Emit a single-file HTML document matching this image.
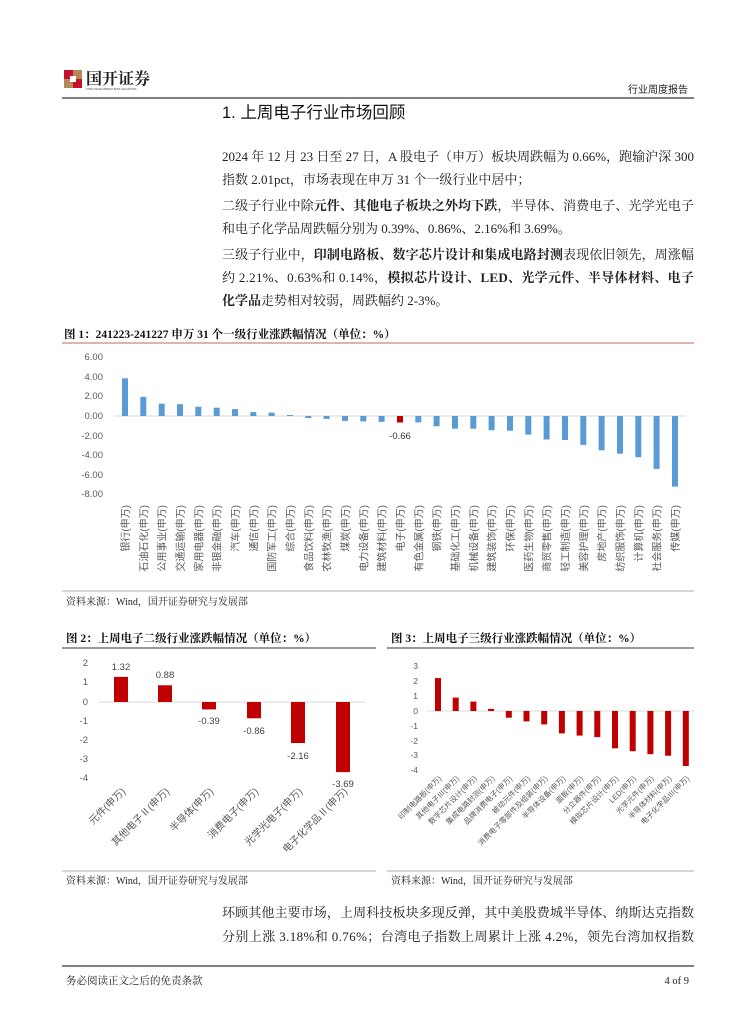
<!DOCTYPE html>
<html><head><meta charset="utf-8"><style>
html,body{margin:0;padding:0;background:#fff}
svg{display:block}
.b{font-family:"Liberation Serif","Noto Serif CJK SC",serif;font-size:13px;fill:#222}
.s{font-family:"Liberation Sans","Noto Sans CJK SC",sans-serif;fill:#595959}
.t{font-family:"Liberation Serif","Noto Serif CJK SC",serif;font-size:11.5px;font-weight:bold;fill:#111}
.src{font-family:"Liberation Serif","Noto Serif CJK SC",serif;font-size:10px;fill:#222}
</style></head><body>
<svg width="755" height="1024" viewBox="0 0 755 1024" xmlns="http://www.w3.org/2000/svg">
<!-- header -->
<rect x="64" y="70" width="9" height="9" fill="#c8102e"/><rect x="73" y="70" width="9" height="9" fill="#b58a5a"/>
<rect x="64" y="79" width="9" height="9" fill="#b58a5a"/><rect x="73" y="79" width="9" height="9" fill="#c8102e"/>
<rect x="70" y="76" width="6" height="6" fill="#fff"/>
<text x="86" y="84" font-family="Noto Serif CJK SC,serif" font-size="16" font-weight="bold" fill="#222">国开证券</text>
<text x="86" y="90" font-family="Liberation Sans,sans-serif" font-size="2.5" fill="#444">CHINA DEVELOPMENT BANK SECURITIES</text>
<text x="688" y="93" class="s" font-size="10" text-anchor="end" fill="#222" style="fill:#222">行业周度报告</text>
<line x1="62" y1="98" x2="694" y2="98" stroke="#333" stroke-width="1.2"/>
<text x="222" y="118" font-family="Liberation Sans,Noto Sans CJK SC,sans-serif" font-size="16.5" fill="#111">1. 上周电子行业市场回顾</text>
<!-- paragraphs -->
<text class="b" x="222" y="161" textLength="472" lengthAdjust="spacing">2024 年 12 月 23 日至 27 日，A 股电子（申万）板块周跌幅为 0.66%，跑输沪深 300</text>
<text class="b" x="222" y="184">指数 2.01pct，市场表现在申万 31 个一级行业中居中；</text>
<text class="b" x="222" y="210" textLength="472" lengthAdjust="spacing">二级子行业中除<tspan font-weight="bold">元件、其他电子板块之外均下跌</tspan>，半导体、消费电子、光学光电子</text>
<text class="b" x="222" y="233">和电子化学品周跌幅分别为 0.39%、0.86%、2.16%和 3.69%。</text>
<text class="b" x="222" y="259" textLength="472" lengthAdjust="spacing">三级子行业中，<tspan font-weight="bold">印制电路板、数字芯片设计和集成电路封测</tspan>表现依旧领先，周涨幅</text>
<text class="b" x="222" y="282" textLength="472" lengthAdjust="spacing">约 2.21%、0.63%和 0.14%，<tspan font-weight="bold">模拟芯片设计、LED、光学元件、半导体材料、电子</tspan></text>
<text class="b" x="222" y="305"><tspan font-weight="bold">化学品</tspan>走势相对较弱，周跌幅约 2-3%。</text>
<!-- fig1 -->
<text class="t" x="64" y="338">图 1：241223-241227 申万 31 个一级行业涨跌幅情况（单位：%）</text>
<line x1="62" y1="343" x2="694" y2="343" stroke="#c0504d" stroke-width="1.2" opacity="0.7"/>
<g class="s" font-size="9.5" text-anchor="end">
<text x="103" y="360">6.00</text><text x="103" y="380">4.00</text><text x="103" y="399">2.00</text><text x="103" y="419">0.00</text>
<text x="103" y="439">-2.00</text><text x="103" y="458">-4.00</text><text x="103" y="478">-6.00</text><text x="103" y="497">-8.00</text>
</g>
<line x1="114" y1="416" x2="686" y2="416" stroke="#d9d9d9" stroke-width="1"/>
<g fill="#5b9bd5">
<rect x="122" y="378.3" width="6" height="37.7"/><rect x="140.3" y="396.9" width="6" height="19.1"/><rect x="158.7" y="403.7" width="6" height="12.3"/>
<rect x="177" y="404.2" width="6" height="11.8"/><rect x="195.3" y="406.7" width="6" height="9.3"/><rect x="213.7" y="407.7" width="6" height="8.3"/>
<rect x="232" y="409.1" width="6" height="6.9"/><rect x="250.3" y="412.1" width="6" height="3.9"/><rect x="268.6" y="412.6" width="6" height="3.4"/>
<rect x="287" y="415" width="6" height="1"/><rect x="305.3" y="416" width="6" height="2"/><rect x="323.6" y="416" width="6" height="2.9"/>
<rect x="342" y="416" width="6" height="4.9"/><rect x="360.3" y="416" width="6" height="5.4"/><rect x="378.6" y="416" width="6" height="5.9"/>
<rect x="397" y="416" width="6" height="6.5" fill="#c00000"/><rect x="415.3" y="416" width="6" height="6.4"/><rect x="433.6" y="416" width="6" height="10.3"/>
<rect x="452" y="416" width="6" height="12.7"/><rect x="470.3" y="416" width="6" height="12.7"/><rect x="488.6" y="416" width="6" height="14.2"/>
<rect x="507" y="416" width="6" height="14.7"/><rect x="525.3" y="416" width="6" height="18.6"/><rect x="543.6" y="416" width="6" height="23.5"/>
<rect x="562" y="416" width="6" height="24"/><rect x="580.3" y="416" width="6" height="28.9"/><rect x="598.6" y="416" width="6" height="34.3"/>
<rect x="617" y="416" width="6" height="37.7"/><rect x="635.3" y="416" width="6" height="41.2"/><rect x="653.6" y="416" width="6" height="52.9"/>
<rect x="672" y="416" width="6" height="70.6"/>
</g>
<text class="s" x="400" y="439" font-size="9.5" text-anchor="middle" style="fill:#333">-0.66</text>
<g class="s" font-size="10" text-anchor="end">
<text transform="translate(129,505) rotate(-90)">银行(申万)</text>
<text transform="translate(147.3,505) rotate(-90)">石油石化(申万)</text>
<text transform="translate(165.7,505) rotate(-90)">公用事业(申万)</text>
<text transform="translate(184,505) rotate(-90)">交通运输(申万)</text>
<text transform="translate(202.3,505) rotate(-90)">家用电器(申万)</text>
<text transform="translate(220.7,505) rotate(-90)">非银金融(申万)</text>
<text transform="translate(239,505) rotate(-90)">汽车(申万)</text>
<text transform="translate(257.3,505) rotate(-90)">通信(申万)</text>
<text transform="translate(275.6,505) rotate(-90)">国防军工(申万)</text>
<text transform="translate(294,505) rotate(-90)">综合(申万)</text>
<text transform="translate(312.3,505) rotate(-90)">食品饮料(申万)</text>
<text transform="translate(330.6,505) rotate(-90)">农林牧渔(申万)</text>
<text transform="translate(349,505) rotate(-90)">煤炭(申万)</text>
<text transform="translate(367.3,505) rotate(-90)">电力设备(申万)</text>
<text transform="translate(385.6,505) rotate(-90)">建筑材料(申万)</text>
<text transform="translate(404,505) rotate(-90)">电子(申万)</text>
<text transform="translate(422.3,505) rotate(-90)">有色金属(申万)</text>
<text transform="translate(440.6,505) rotate(-90)">钢铁(申万)</text>
<text transform="translate(459,505) rotate(-90)">基础化工(申万)</text>
<text transform="translate(477.3,505) rotate(-90)">机械设备(申万)</text>
<text transform="translate(495.6,505) rotate(-90)">建筑装饰(申万)</text>
<text transform="translate(514,505) rotate(-90)">环保(申万)</text>
<text transform="translate(532.3,505) rotate(-90)">医药生物(申万)</text>
<text transform="translate(550.6,505) rotate(-90)">商贸零售(申万)</text>
<text transform="translate(569,505) rotate(-90)">轻工制造(申万)</text>
<text transform="translate(587.3,505) rotate(-90)">美容护理(申万)</text>
<text transform="translate(605.6,505) rotate(-90)">房地产(申万)</text>
<text transform="translate(624,505) rotate(-90)">纺织服饰(申万)</text>
<text transform="translate(642.3,505) rotate(-90)">计算机(申万)</text>
<text transform="translate(660.6,505) rotate(-90)">社会服务(申万)</text>
<text transform="translate(679,505) rotate(-90)">传媒(申万)</text>
</g>
<line x1="62" y1="591" x2="694" y2="591" stroke="#999" stroke-width="0.8"/>
<text class="src" x="66" y="605">资料来源：Wind，国开证券研究与发展部</text>
<!-- fig2 -->
<text class="t" x="66" y="642">图 2：上周电子二级行业涨跌幅情况（单位：%）</text>
<line x1="62" y1="648" x2="376" y2="648" stroke="#333" stroke-width="1"/>
<g class="s" font-size="9.5" text-anchor="end">
<text x="88" y="666">2</text><text x="88" y="685">1</text><text x="88" y="705">0</text><text x="88" y="724">-1</text>
<text x="88" y="743">-2</text><text x="88" y="762">-3</text><text x="88" y="781">-4</text>
</g>
<line x1="98" y1="702" x2="366" y2="702" stroke="#d9d9d9"/>
<g fill="#c00000">
<rect x="114" y="676.9" width="14" height="25.1"/><rect x="158" y="685.3" width="14" height="16.7"/>
<rect x="202" y="702" width="14" height="7.4"/><rect x="247" y="702" width="14" height="16.3"/>
<rect x="291" y="702" width="14" height="41"/><rect x="336" y="702" width="14" height="70.1"/>
</g>
<g class="s" font-size="9.5" text-anchor="middle" style="fill:#444">
<text x="121" y="670">1.32</text><text x="165" y="678">0.88</text><text x="209" y="724">-0.39</text>
<text x="254" y="734">-0.86</text><text x="298" y="759">-2.16</text><text x="343" y="787">-3.69</text>
</g>
<g class="s" font-size="10" text-anchor="end">
<text transform="translate(126,792) rotate(-45)">元件(申万)</text>
<text transform="translate(170,792) rotate(-45)">其他电子Ⅱ(申万)</text>
<text transform="translate(214,792) rotate(-45)">半导体(申万)</text>
<text transform="translate(259,792) rotate(-45)">消费电子(申万)</text>
<text transform="translate(303,792) rotate(-45)">光学光电子(申万)</text>
<text transform="translate(348,792) rotate(-45)">电子化学品Ⅱ(申万)</text>
</g>
<!-- fig3 -->
<text class="t" x="391" y="642">图 3：上周电子三级行业涨跌幅情况（单位：%）</text>
<line x1="387" y1="648" x2="694" y2="648" stroke="#333" stroke-width="1"/>
<g class="s" font-size="8.5" text-anchor="end">
<text x="418" y="669">3</text><text x="418" y="684">2</text><text x="418" y="699">1</text><text x="418" y="714">0</text>
<text x="418" y="729">-1</text><text x="418" y="744">-2</text><text x="418" y="758">-3</text><text x="418" y="773">-4</text>
</g>
<line x1="427" y1="711" x2="695" y2="711" stroke="#d9d9d9"/>
<g fill="#c00000">
<rect x="435" y="678.1" width="6" height="32.9"/><rect x="452.7" y="697.6" width="6" height="13.4"/>
<rect x="470.4" y="701.6" width="6" height="9.4"/><rect x="488.1" y="708.9" width="6" height="2.1"/>
<rect x="505.8" y="711" width="6" height="6.7"/><rect x="523.5" y="711" width="6" height="10.4"/>
<rect x="541.2" y="711" width="6" height="13.4"/><rect x="558.9" y="711" width="6" height="22.4"/>
<rect x="576.6" y="711" width="6" height="24.6"/><rect x="594.3" y="711" width="6" height="26.1"/>
<rect x="612" y="711" width="6" height="37.3"/><rect x="629.7" y="711" width="6" height="40.2"/>
<rect x="647.4" y="711" width="6" height="43.2"/><rect x="665.1" y="711" width="6" height="44.7"/>
<rect x="682.8" y="711" width="6" height="55"/>
</g>
<g class="s" font-size="7.5" text-anchor="end">
<text transform="translate(442,779) rotate(-45)">印制电路板(申万)</text>
<text transform="translate(459.7,779) rotate(-45)">其他电子Ⅲ(申万)</text>
<text transform="translate(477.4,779) rotate(-45)">数字芯片设计(申万)</text>
<text transform="translate(495.1,779) rotate(-45)">集成电路封测(申万)</text>
<text transform="translate(512.8,779) rotate(-45)">品牌消费电子(申万)</text>
<text transform="translate(530.5,779) rotate(-45)">被动元件(申万)</text>
<text transform="translate(548.2,779) rotate(-45)">消费电子零部件及组装(申万)</text>
<text transform="translate(565.9,779) rotate(-45)">半导体设备(申万)</text>
<text transform="translate(583.6,779) rotate(-45)">面板(申万)</text>
<text transform="translate(601.3,779) rotate(-45)">分立器件(申万)</text>
<text transform="translate(619,779) rotate(-45)">模拟芯片设计(申万)</text>
<text transform="translate(636.7,779) rotate(-45)">LED(申万)</text>
<text transform="translate(654.4,779) rotate(-45)">光学元件(申万)</text>
<text transform="translate(672.1,779) rotate(-45)">半导体材料(申万)</text>
<text transform="translate(689.8,779) rotate(-45)">电子化学品Ⅲ(申万)</text>
</g>
<line x1="62" y1="871" x2="376" y2="871" stroke="#999" stroke-width="0.8"/>
<line x1="387" y1="871" x2="694" y2="871" stroke="#999" stroke-width="0.8"/>
<text class="src" x="66" y="884">资料来源：Wind，国开证券研究与发展部</text>
<text class="src" x="391" y="884">资料来源：Wind，国开证券研究与发展部</text>
<!-- bottom para -->
<text class="b" x="222" y="917" textLength="472" lengthAdjust="spacing">环顾其他主要市场，上周科技板块多现反弹，其中美股费城半导体、纳斯达克指数</text>
<text class="b" x="222" y="941" textLength="472" lengthAdjust="spacing">分别上涨 3.18%和 0.76%；台湾电子指数上周累计上涨 4.2%，领先台湾加权指数</text>
<!-- footer -->
<line x1="62" y1="966" x2="694" y2="966" stroke="#333" stroke-width="1.2"/>
<text class="src" x="66" y="984" style="font-size:10.5px">务必阅读正文之后的免责条款</text>
<text class="src" x="689" y="984" text-anchor="end" style="font-size:10.5px">4 of 9</text>
</svg>
</body></html>
